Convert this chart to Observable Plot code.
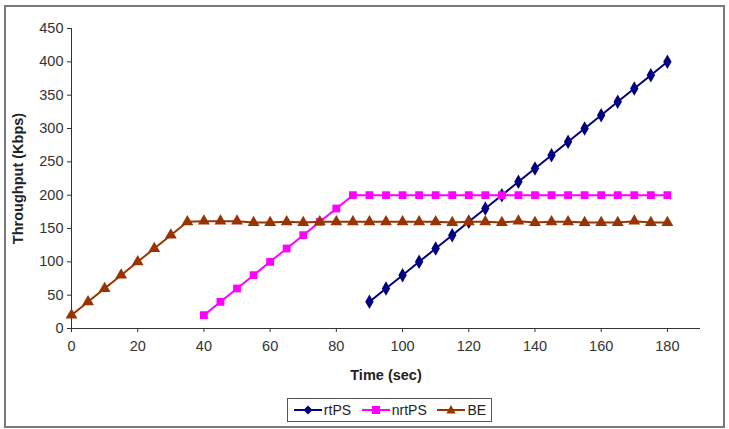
<!DOCTYPE html>
<html>
<head>
<meta charset="utf-8">
<script src="https://cdn.jsdelivr.net/npm/d3@7"></script>
<script src="https://cdn.jsdelivr.net/npm/@observablehq/plot@0.6"></script>
<style>
  html, body { margin: 0; padding: 0; background: #fff; }
  body { width: 729px; height: 429px; position: relative; overflow: hidden; font-family: "Liberation Sans", Arial, sans-serif; }
  #frame { position: absolute; left: 4px; top: 5px; width: 717px; height: 419px; border: 2px solid #7a7a7a; pointer-events: none; }
  #chart { position: absolute; left: 0; top: 0; }
  #legend { position: absolute; left: 287px; top: 398px; width: 205px; height: 24px; border: 1px solid #555; display: flex; align-items: center; justify-content: space-around; font-size: 14px; color: #222; box-sizing: border-box; background: #fff; }
  #legend span { display: inline-flex; align-items: center; }
  #legend svg { margin-right: 1px; }
</style>
</head>
<body>
<div id="chart"></div>
<div id="legend"></div>
<div id="frame"></div>
<script>
// ---- data ----
const seriesNames = ["rtPS", "nrtPS", "BE"];
const seriesColors = ["#000080", "#ff00ff", "#993300"];
const seriesSymbols = ["diamond", "square", "triangle"];

const rtpsTime = [90, 95, 100, 105, 110, 115, 120, 125, 130, 135, 140, 145, 150, 155, 160, 165, 170, 175, 180];
const rtpsValue = [40, 60, 80, 100, 120, 140, 160, 180, 200, 220, 240, 260, 280, 300, 320, 340, 360, 380, 400];

const nrtpsTime = [40, 45, 50, 55, 60, 65, 70, 75, 80, 85, 90, 95, 100, 105, 110, 115, 120, 125, 130, 135, 140, 145, 150, 155, 160, 165, 170, 175, 180];
const nrtpsValue = [20, 40, 60, 80, 100, 120, 140, 160, 180, 200, 200, 200, 200, 200, 200, 200, 200, 200, 200, 200, 200, 200, 200, 200, 200, 200, 200, 200, 200];

const beTime = [0, 5, 10, 15, 20, 25, 30, 35, 40, 45, 50, 55, 60, 65, 70, 75, 80, 85, 90, 95, 100, 105, 110, 115, 120, 125, 130, 135, 140, 145, 150, 155, 160, 165, 170, 175, 180];
const beValue = [20, 40, 60, 80, 100, 120, 140, 160, 161, 161, 161, 159, 159, 160, 159, 160, 160, 160, 160, 160, 160, 160, 160, 159, 160, 160, 159, 161, 159, 160, 160, 159, 159, 159, 161, 159, 159];

const xTicks = [0, 20, 40, 60, 80, 100, 120, 140, 160, 180];
const yTicks = [0, 50, 100, 150, 200, 250, 300, 350, 400, 450];

const xLabel = "Time (sec)";
const yLabel = "Throughput (Kbps)";

// ---- build table ----
const rows = [];
[[rtpsTime, rtpsValue], [nrtpsTime, nrtpsValue], [beTime, beValue]].forEach(([ts, vs], i) => {
  ts.forEach((t, j) => rows.push({series: seriesNames[i], time: t, value: vs[j]}));
});

const colorScale = {domain: seriesNames, range: seriesColors};
const symbolScale = {domain: seriesNames, range: seriesSymbols};

const chart = Plot.plot({
  width: 729,
  height: 400,
  marginLeft: 71,
  marginRight: 29,
  marginTop: 28,
  marginBottom: 72,
  style: {fontFamily: "'Liberation Sans', Arial, sans-serif", fontSize: "14px", color: "#333", background: "transparent", overflow: "visible"},
  x: {domain: [0, 190], ticks: xTicks, label: null},
  y: {domain: [0, 450], ticks: yTicks, label: null},
  color: colorScale,
  symbol: symbolScale,
  marks: [
    Plot.axisY({ticks: yTicks, tickSize: 4, tickPadding: 4, fontSize: 14.5, stroke: "#333", fill: "#333"}),
    Plot.axisX({ticks: xTicks, tickSize: 4, tickPadding: 8, fontSize: 14.5, stroke: "#333", fill: "#333"}),
    Plot.ruleX([0], {stroke: "#333", strokeWidth: 1}),
    Plot.ruleY([0], {stroke: "#333", strokeWidth: 1}),
    Plot.line(rows, {x: "time", y: "value", z: "series", stroke: "series", strokeWidth: 2}),
    Plot.dot(rows, {x: "time", y: "value", fill: "series", symbol: "series", r: 4.4, stroke: null}),
    Plot.text([xLabel], {frameAnchor: "bottom", textAnchor: "middle", dy: 51, fontWeight: "bold", fontSize: 14.5, fill: "#222"}),
    Plot.text([yLabel], {frameAnchor: "left", textAnchor: "middle", dx: -53, rotate: -90, fontWeight: "bold", fontSize: 14.5, fill: "#222"})
  ]
});
document.getElementById("chart").appendChild(chart);

// ---- legend ----
const legend = document.getElementById("legend");
const paths = {
  diamond: "M0,-4.5L4.5,0L0,4.5L-4.5,0Z",
  square: "M-4,-4H4V4H-4Z",
  triangle: "M0,-5L4.6,3.5H-4.6Z"
};
seriesNames.forEach((name, i) => {
  const span = document.createElement("span");
  span.innerHTML = `<svg width="30" height="14" viewBox="-15 -7 30 14"><line x1="-14" x2="14" y1="0" y2="0" stroke="${seriesColors[i]}" stroke-width="2"/><path d="${paths[seriesSymbols[i]]}" fill="${seriesColors[i]}"/></svg>${name}`;
  legend.appendChild(span);
});
</script>
</body>
</html>
